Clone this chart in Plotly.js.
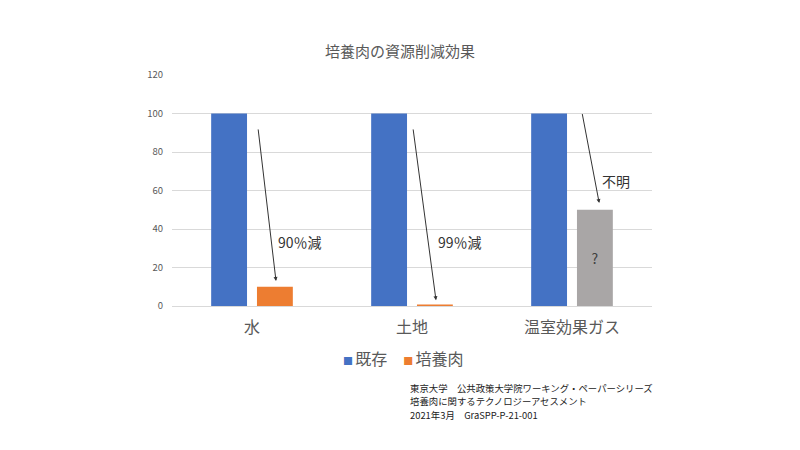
<!DOCTYPE html>
<html><head><meta charset="utf-8">
<script src="https://cdn.plot.ly/plotly-3.0.1.min.js"></script>
<style>html,body{margin:0;padding:0;background:#fff;}#chart{width:800px;height:450px;}</style>
</head><body><div id="chart"></div>
<script>
const categories = ['水', '土地', '温室効果ガス'];
const seriesNames = ['既存', '培養肉'];
const seriesColors = ['#4472C4', '#ED7D31'];
const existing = [100, 100, 100];
const cultured = [10, 0.8, 50];
const culturedColors = ['#ED7D31', '#ED7D31', '#A9A6A6'];
const culturedText = ['', '', '?'];
const yTicks = [0, 20, 40, 60, 80, 100, 120];
const arrowNotes = [
  {label: '90％減', from: [0.0375, 92.5], to: [0.15, 13], lab: [0.3, 33]},
  {label: '99％減', from: [1.006, 92.5], to: [1.15, 3], lab: [1.3, 33]},
  {label: '不明', from: [2.0625, 100.5], to: [2.17, 53.5], lab: [2.275, 65]}
];
const footer = ['東京大学　公共政策大学院ワーキング・ペーパーシリーズ', '培養肉に関するテクノロジーアセスメント', '2021年3月　GraSPP-P-21-001'];

const font = '"Noto Sans CJK JP", "Noto Sans", sans-serif';
const traces = [
  {type: 'bar', name: seriesNames[0], x: categories, y: existing, marker: {color: seriesColors[0]}, hoverinfo: 'none', showlegend: false},
  {type: 'bar', name: seriesNames[1], x: categories, y: cultured, marker: {color: culturedColors},
   text: culturedText, textposition: 'inside', insidetextanchor: 'middle',
   textfont: {family: font, size: 14, color: '#404040'}, hoverinfo: 'none', showlegend: false}
];
const annotations = [];
arrowNotes.forEach(a => {
  annotations.push({x: a.to[0], y: a.to[1], ax: a.from[0], ay: a.from[1], xref: 'x', yref: 'y', axref: 'x', ayref: 'y',
    text: '', showarrow: true, arrowhead: 2, arrowsize: 0.8, arrowwidth: 1, arrowcolor: '#333'});
  annotations.push({x: a.lab[0], y: a.lab[1], xref: 'x', yref: 'y', text: a.label, showarrow: false,
    font: {family: font, size: 14, color: '#333'}});
});
// legend drawn as text with coloured squares
const legendText = seriesNames.map((n, i) => '<span style="color:' + seriesColors[i] + ';font-size:10px">■ </span>' + n).join('　');
annotations.push({x: 0.483, y: -0.225, xref: 'paper', yref: 'paper', xanchor: 'center', yanchor: 'middle',
  text: legendText, showarrow: false, font: {family: font, size: 16, color: '#595959'}});
footer.forEach((t, i) => {
  annotations.push({x: 0.4917, y: -(81.5 + i * 13.6) / 231, xref: 'paper', yref: 'paper', xanchor: 'left', yanchor: 'middle',
    text: t, showarrow: false, font: {family: font, size: 9.4, color: '#222'}});
});
const layout = {
  width: 800, height: 450,
  margin: {l: 172, r: 148, t: 75, b: 144},
  paper_bgcolor: '#fff', plot_bgcolor: '#fff',
  title: {text: '培養肉の資源削減効果', x: 0.5, xanchor: 'center', y: 0.886, yanchor: 'middle',
    font: {family: font, size: 15, color: '#595959'}},
  barmode: 'group', bargap: 0.4275, bargroupgap: 0.217,
  xaxis: {type: 'category', tickfont: {family: font, size: 16, color: '#595959'}, showgrid: false,
    showline: true, linecolor: '#d9d9d9', ticks: '', ticklabelstandoff: 7, fixedrange: true},
  yaxis: {range: [0, 120], tickvals: yTicks, ticktext: yTicks.map(String), showgrid: true, gridcolor: '#d9d9d9',
    zeroline: false, showline: false, tickfont: {family: font, size: 9.5, color: '#595959'}, ticklabelstandoff: 8},
  showlegend: false,
  annotations: annotations
};
Plotly.newPlot('chart', traces, layout, {displayModeBar: false, staticPlot: true});
</script></body></html>
